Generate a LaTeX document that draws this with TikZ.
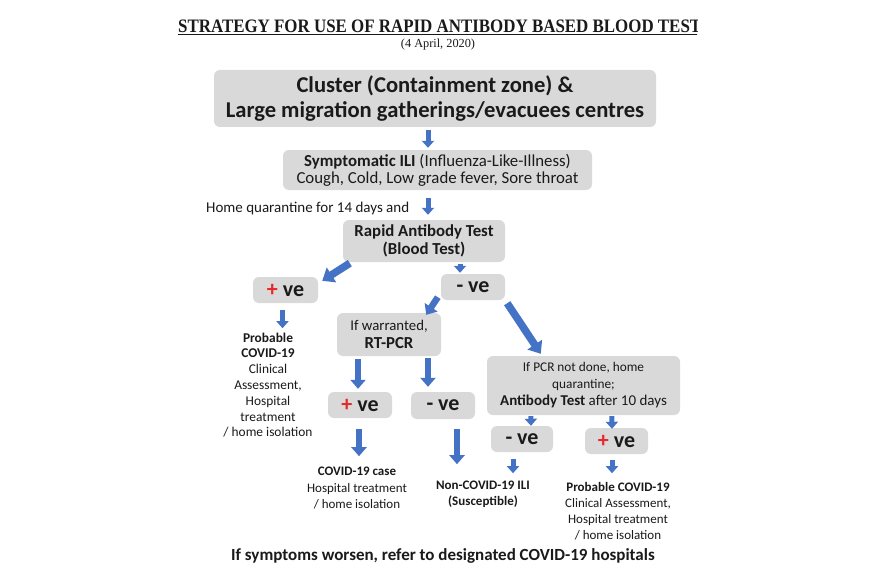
\documentclass[tikz,border=0pt]{standalone}
\usepackage{fontspec}
\setmainfont{Carlito}
\newfontfamily\titlefont{Liberation Serif}
\usetikzlibrary{arrows.meta,calc}
\definecolor{boxgray}{HTML}{D9D9D9}
\definecolor{arrblue}{HTML}{4472C4}
\definecolor{plusred}{HTML}{E8282B}
\definecolor{txt}{HTML}{1A1A1A}
\begin{document}
\begin{tikzpicture}[x=1pt,y=-1pt,
  every node/.style={text=txt, inner sep=0pt},
  boxwh/.style 2 args={fill=boxgray, rounded corners=6pt, align=center, minimum width=#1pt, minimum height=#2pt},
  vefont/.style={font=\bfseries\fontsize{22}{24}\selectfont},
  sarrow/.style={draw=arrblue, line width=5pt, -{Triangle[width=12pt,length=7pt]}},
  marrow/.style={draw=arrblue, line width=6.5pt, -{Triangle[width=15pt,length=9pt]}},
  barrow/.style={draw=arrblue, line width=7.5pt, -{Triangle[width=17pt,length=11pt]}},
  plain/.style={align=center}]
\useasboundingbox[fill=white] (0,0) rectangle (875,583);

% title
\begin{scope}
\clip (0,0) rectangle (697,60);
\node[anchor=west, xscale=0.89, transform shape, font=\titlefont\bfseries\fontsize{19}{22}\selectfont] (title) at (178,26) {STRATEGY FOR USE OF RAPID ANTIBODY BASED BLOOD TEST};
\draw[line width=1.2pt, txt] (178,34.5) -- (title.east |- 0,34.5);
\end{scope}
\node[font=\titlefont\fontsize{12.3}{14}\selectfont] (date) at (438,45) {(4 April, 2020)};

% boxes
\node[boxwh={442}{57}, font=\bfseries\fontsize{22.6}{25}\selectfont] (b1) at (435,98.5)
  {Cluster (Containment zone) \&\\Large migration gatherings/evacuees centres};
\node[boxwh={309}{40}, font=\fontsize{16.8}{17}\selectfont] (b2) at (437.5,170)
  {\textbf{Symptomatic ILI} (Influenza-Like-Illness)\\Cough, Cold, Low grade fever, Sore throat};
\node[anchor=west, font=\fontsize{15}{17}\selectfont] (hq) at (206,208) {Home quarantine for 14 days and};
\node[boxwh={162}{42}, font=\bfseries\fontsize{16.8}{18}\selectfont] (b3) at (424,241)
  {Rapid Antibody Test\\(Blood Test)};

\node[boxwh={65}{26}, vefont] (pl) at (285.5,290) {{\color{plusred}+} ve};
\node[boxwh={64}{26}, vefont] (nt) at (473,287) {- ve};

\node[boxwh={104}{43}, font=\fontsize{14.8}{18}\selectfont] (rt) at (389,334.5)
  {If warranted,\\{\fontsize{16.8}{18}\selectfont\textbf{RT-PCR}}};
\node[boxwh={64}{26}, vefont] (pm) at (360,405) {{\color{plusred}+} ve};
\node[boxwh={64}{27}, vefont] (nm) at (443,405.5) {- ve};

\node[boxwh={193}{59}, font=\fontsize{13.3}{17}\selectfont] (pcr) at (583.5,385.5)
  {If PCR not done, home\\quarantine;\\{\fontsize{15}{17}\selectfont\textbf{Antibody Test} after 10 days}};
\node[boxwh={62}{26}, vefont] (nb) at (522,439) {- ve};
\node[boxwh={63}{26}, vefont] (pb) at (616.5,441) {{\color{plusred}+} ve};

% text outcomes
\node[plain, font=\fontsize{13.4}{15.8}\selectfont] (probL) at (268,385)
  {\textbf{Probable}\\\textbf{COVID-19}\\Clinical\\Assessment,\\Hospital\\treatment\\/ home isolation};
\node[plain, font=\fontsize{13}{16.5}\selectfont] (ccase) at (357,488.5)
  {\textbf{COVID-19 case}\\Hospital treatment\\/ home isolation};
\node[plain, font=\bfseries\fontsize{13}{16}\selectfont] (nonc) at (483,494)
  {Non-COVID-19 ILI\\(Susceptible)};
\node[plain, font=\fontsize{13}{16}\selectfont] (probR) at (618,511)
  {\textbf{Probable COVID-19}\\Clinical Assessment,\\Hospital treatment\\/ home isolation};
\node[font=\bfseries\fontsize{17}{19}\selectfont] (foot) at (443,556)
  {If symptoms worsen, refer to designated COVID-19 hospitals};

% arrows
\draw[sarrow] ($(b1.south)+(-7,3)$) -- ($(b2.north)+(-9.5,-2)$);
\draw[sarrow] ($(b2.south)+(-9.5,8)$) -- ($(b3.north)+(4,-5)$);
\draw[barrow] ($(b3.south west)+(7,1)$) -- ($(pl.north east)+(4,4)$);
\draw[sarrow] ($(b3.south)+(36,2)$) -- ($(nt.north)+(-13,-1)$);
\draw[sarrow] ($(pl.south)+(-3,7)$) -- ($(pl.south)+(-3,25)$);
\draw[marrow] ($(nt.south west)+(-3,-3)$) -- ($(rt.north east)+(-15,2)$);
\draw[barrow] ($(nt.south east)+(2,3)$) -- ($(pcr.north west)+(54,-2)$);
\draw[marrow] ($(rt.south)+(-31,3)$) -- ($(pm.north)+(-2,-3)$);
\draw[marrow] ($(rt.south)+(39,2)$) -- ($(nm.north)+(-15,-5)$);
\draw[marrow] ($(pm.south)+(-1,11)$) -- ($(pm.south)+(-1,38)$);
\draw[marrow] ($(nm.south)+(14,10)$) -- ($(nm.south)+(14,45)$);
\draw[sarrow] ($(pcr.south west)+(44,1)$) -- ($(nb.north)+(9,0)$);
\draw[sarrow] ($(pcr.south west)+(125,1)$) -- ($(pb.north)+(-4.5,1)$);
\draw[sarrow] ($(nb.south)+(-9,7)$) -- ($(nb.south)+(-9,21)$);
\draw[sarrow] ($(pb.south)+(-4.5,6)$) -- ($(pb.south)+(-4.5,19)$);
\end{tikzpicture}
\end{document}
